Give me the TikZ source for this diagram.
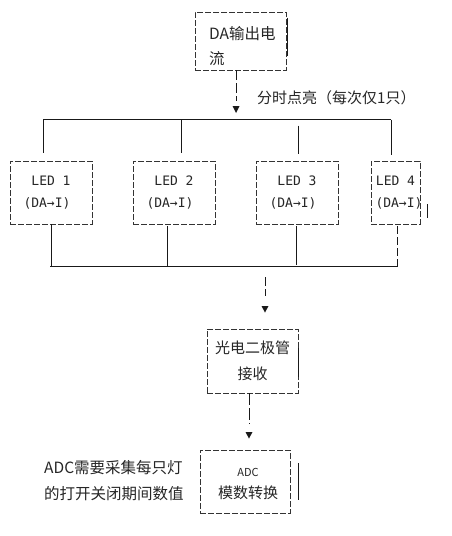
\documentclass[tikz,border=0pt]{standalone}
\usepackage{fontspec}
\newfontfamily\cjk{Noto Sans CJK SC}
\newfontfamily\mono{DejaVu Sans Mono}
\usetikzlibrary{calc}
\begin{document}
\begin{tikzpicture}[x=1pt,y=-1pt,
  dbox/.style={draw=black!80, dash pattern=on 6pt off 2pt, line width=0.8pt, inner sep=0pt, rectangle},
  wire/.style={draw=black!90, line width=0.9pt},
  txt/.style={inner sep=0pt, text=black!85, font=\cjk\fontsize{15.5}{15.5}\selectfont},
  ledbox/.style={dbox, minimum width=82pt, minimum height=63pt, align=center, text=black!85, font=\mono\fontsize{13}{22}\selectfont},
  tipfill/.style={fill=black!90}
]
\useasboundingbox[fill=white] (0,0) rectangle (452,536);

% top box
\node[dbox, minimum width=91pt, minimum height=58pt] (da) at (240.5,41) {};
\node[txt, anchor=west] (dat1) at (209,34) {DA输出电};
\node[txt, anchor=west] (dat2) at (209,59) {流};
\draw[wire] ($(da.north east)+(1,6)$) -- ($(da.north east)+(1,44)$);

% arrow down to bus
\coordinate (a1) at (236,101);
\draw[wire, dash pattern=on 10pt off 3pt] (da.south -| a1) -- (a1);
\fill[tipfill] (232.5,106) -- (239.5,106) -- (236,113) -- cycle;
\node[txt, anchor=west, font=\cjk\fontsize{15}{15}\selectfont] (fs) at (257,98) {分时点亮（每次仅1只）};

% top bus
\coordinate (t1) at (43,119.5);
\coordinate (t2) at (181,119.5);
\coordinate (t3) at (298,119.5);
\coordinate (t4) at (391,119.5);
\draw[wire] (t1) -- (t4);

% LED boxes
\node[ledbox] (led1) at (51,192.5) {LED 1\\(DA→I)\hspace*{8pt}};
\node[ledbox] (led2) at (174,192.5) {LED 2\\(DA→I)\hspace*{8pt}};
\node[ledbox] (led3) at (297,192.5) {LED 3\\(DA→I)\hspace*{8pt}};
\node[ledbox, minimum width=49pt] (led4) at (395.5,192.5) {LED 4\\\makebox[47pt][l]{\hspace*{3.5pt}(DA→I)}};
\draw[wire] (427.5,204) -- (427.5,218);

\draw[wire, shorten >=8pt] (t1) -- (t1 |- led1.north);
\draw[wire, shorten >=8pt] (t2) -- (t2 |- led2.north);
\draw[wire, shorten <=6pt, shorten >=7pt] (t3) -- (t3 |- led3.north);
\draw[wire, shorten >=6pt] (t4) -- (t4 |- led4.north);

% bottom bus
\coordinate (u1) at (51,266);
\coordinate (u2) at (167,266);
\coordinate (u3) at (296,265);
\coordinate (u4) at (397,267);
\coordinate (ul) at (50,266);
\coordinate (ur) at (398,266);
\draw[wire] (ul) -- (ur);
\draw[wire] (led1.south -| u1) -- (u1);
\draw[wire, shorten <=2pt] (led2.south -| u2) -- (u2);
\draw[wire, shorten <=2pt] (led3.south -| u3) -- (u3);
\draw[wire, dash pattern=on 8pt off 3pt, shorten <=2pt] (led4.south -| u4) -- (u4);

% down to photodiode
\coordinate (bm) at (265,266);
\coordinate (c2) at (265,296);
\draw[wire, dash pattern=on 9pt off 3pt, shorten <=11pt] (bm) -- (c2);
\fill[tipfill] (261.5,306) -- (268.5,306) -- (265,312.5) -- cycle;

\node[dbox, minimum width=91pt, minimum height=64pt, align=center, text=black!85,
      font=\cjk\fontsize{15}{26}\selectfont] (pd) at (252.5,361) {光电二极管\\接收};
\draw[wire] (298,348) -- (298,377);

% down to ADC
\coordinate (d1) at (249,424);
\draw[wire, dash pattern=on 12pt off 3pt] (pd.south -| d1) -- (d1);
\fill[tipfill] (245.5,432) -- (252.5,432) -- (249,438.5) -- cycle;

\node[dbox, minimum width=90pt, minimum height=63pt] (adc) at (245,481.5) {};
\node[txt, font=\cjk\fontsize{11}{11}\selectfont] (adct1) at (248,472) {ADC};
\node[txt, font=\cjk\fontsize{15}{15}\selectfont] (adct2) at (248,493) {模数转换};
\draw[wire] (298,463) -- (298,500);

% note
\node[txt, anchor=west] (note1) at (44,468) {ADC需要采集每只灯};
\node[txt, anchor=west] (note2) at (44,494) {的打开关闭期间数值};
\end{tikzpicture}
\end{document}
